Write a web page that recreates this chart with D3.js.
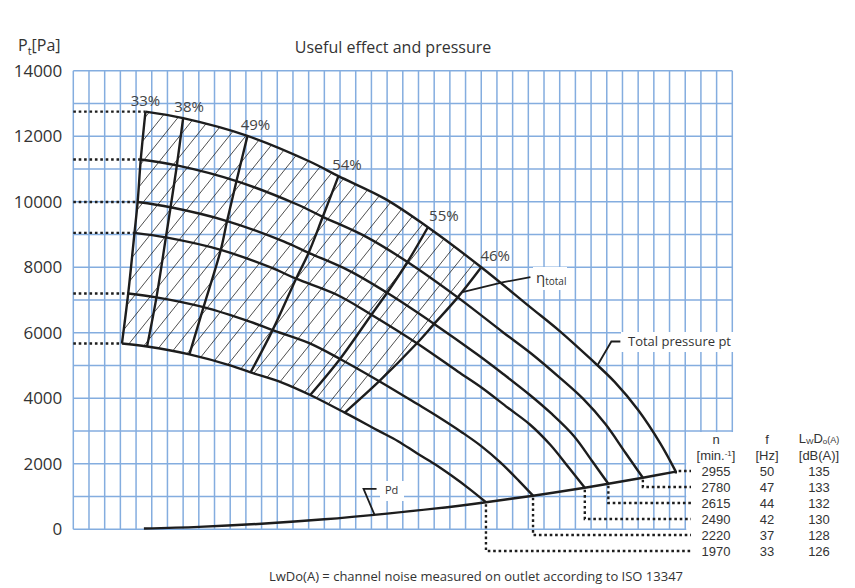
<!DOCTYPE html>
<html>
<head>
<meta charset="utf-8">
<script src="https://cdn.jsdelivr.net/npm/d3@7"></script>
<style>
  body { margin: 0; background: #fff; }
  svg { display: block; }
  text { font-family: "Open Sans", sans-serif; fill: #333; }
  .tbl text { font-family: "Liberation Sans", Arial, sans-serif; }
</style>
</head>
<body>
<svg></svg>
<script>
const wSvg = 855, hSvg = 588;

// speed rows of the table
const speeds = [2955, 2780, 2615, 2490, 2220, 1970];
const freqs = [50, 47, 44, 42, 37, 33];
const noise = [135, 133, 132, 130, 128, 126];

// pressure curves, [flow (grid units), Pt in Pa]
const curve2955 = [[4.6,12750],[7.0,12550],[11.1,12010],[15.1,11220],[16.9,10780],[19.9,10080],[22.6,9220],[26.0,8000],[29.1,6790],[31.0,6050],[32.9,5230],[34.5,4500],[36.0,3640],[37.4,2630],[38.4,1762]];
const curve2780 = [[4.3,11290],[6.6,11110],[10.4,10630],[14.2,9930],[15.9,9540],[18.7,8920],[21.3,8160],[24.5,7080],[27.4,6010],[29.2,5360],[31.0,4630],[32.5,3980],[33.9,3220],[35.2,2330],[36.3,1575]];
const curve2615 = [[4.1,9990],[6.2,9830],[9.8,9410],[13.4,8790],[15.0,8440],[17.6,7890],[20.0,7220],[23.0,6270],[25.8,5320],[27.4,4740],[29.1,4100],[30.5,3520],[31.9,2850],[33.1,2060],[34.1,1390]];
const curve2490 = [[3.9,9050],[5.9,8910],[9.4,8530],[12.7,7970],[14.2,7650],[16.8,7160],[19.0,6550],[21.9,5680],[24.5,4820],[26.1,4300],[27.7,3710],[29.1,3200],[30.4,2580],[31.6,1870],[32.6,1270]];
const curve2220 = [[3.5,7200],[5.3,7080],[8.3,6780],[11.3,6330],[12.7,6080],[15.0,5690],[17.0,5200],[19.5,4520],[21.9,3830],[23.3,3420],[24.8,2950],[26.0,2540],[27.2,2050],[28.4,1480],[29.3,1026]];
const curve1970 = [[3.1,5670],[4.7,5580],[7.4,5340],[10.1,4990],[11.3,4790],[13.3,4480],[15.1,4100],[17.3,3560],[19.4,3020],[20.7,2690],[21.9,2320],[23.0,2000],[24.1,1640],[25.2,1250],[26.3,827]];

// dynamic pressure Pd
const pdCurve = [[4.5,25],[8,75],[12,170],[16,305],[20,480],[23,630],[26.3,827],[29.3,1026],[32.6,1270],[34.1,1390],[36.3,1575],[38.4,1762]];

// efficiency lines: label and the point index on each speed curve
const effLabels = ["33%", "38%", "49%", "54%", "55%", "46%"];
const effIndex = [0, 1, 2, 4, 6, 7];

const yTicks = [0, 2000, 4000, 6000, 8000, 10000, 12000, 14000];

const curves = [curve2955, curve2780, curve2615, curve2490, curve2220, curve1970];

const svg = d3.select("svg")
    .attr("width", wSvg)
    .attr("height", hSvg);

const x = d3.scaleLinear().domain([0, 42]).range([73.3, 732.3]);
const y = d3.scaleLinear().domain([0, 14000]).range([529.3, 70.7]);

const line = d3.line()
    .x(d => x(d[0]))
    .y(d => y(d[1]))
    .curve(d3.curveCatmullRom.alpha(0.5));

// grid
const grid = svg.append("g")
    .attr("stroke", "#84addf")
    .attr("stroke-width", 1.5);

grid.selectAll("line.v")
    .data(d3.range(0, 43))
    .join("line")
    .classed("v", true)
    .attr("x1", d => x(d)).attr("x2", d => x(d))
    .attr("y1", y(0)).attr("y2", y(14000));

grid.selectAll("line.h")
    .data(d3.range(0, 14001, 1000))
    .join("line")
    .classed("h", true)
    .attr("x1", x(0)).attr("x2", x(42))
    .attr("y1", d => y(d)).attr("y2", d => y(d));

// white boxes behind table and labels
const boxes = [
    [x(39) + 1, y(3000) + 1, 120, 120],
    [621, 332, 116, 20],
    [533, 267, 34, 23],
    [380, 481, 24, 20]
];
svg.append("g").selectAll("rect")
    .data(boxes)
    .join("rect")
    .attr("x", d => d[0]).attr("y", d => d[1])
    .attr("width", d => d[2]).attr("height", d => d[3])
    .attr("fill", "#fff");

// y axis labels
const yAxis = svg.append("g")
    .attr("transform", `translate(${x(0)},0)`)
    .call(d3.axisLeft(y).tickValues(yTicks).tickSize(0).tickPadding(11).tickFormat(d3.format("d")));
yAxis.select(".domain").remove();
yAxis.selectAll("text")
    .attr("font-size", 17)
    .attr("font-family", "Open Sans, sans-serif")
    .style("fill", "#333");

// hatching between 33% and 46% lines
const topSeg = curve2955.slice(0, 8);
const rightSeg = curves.map(c => c[7]);
const bottomSeg = curve1970.slice(0, 8).reverse();
const leftSeg = curves.map(c => c[0]).reverse();
const clipD = line(topSeg)
    + line(rightSeg).replace("M", "L")
    + line(bottomSeg).replace("M", "L")
    + line(leftSeg).replace("M", "L") + "Z";

svg.append("clipPath").attr("id", "hatchClip")
    .append("path").attr("d", clipD);

const hatch = svg.append("g")
    .attr("clip-path", "url(#hatchClip)")
    .attr("stroke", "#222")
    .attr("stroke-width", 0.8);
hatch.selectAll("line")
    .data(d3.range(-20, 40))
    .join("line")
    .attr("x1", i => 60 + i * 16.5).attr("y1", 430)
    .attr("x2", i => 60 + i * 16.5 + 340 / 1.25).attr("y2", 90);

// speed curves
svg.append("g").selectAll("path")
    .data(curves)
    .join("path")
    .attr("d", line)
    .attr("fill", "none")
    .attr("stroke", "#1d1d1d")
    .attr("stroke-width", 2.4);

// efficiency lines
svg.append("g").selectAll("path")
    .data(effIndex)
    .join("path")
    .attr("d", k => line(curves.map(c => c[k])))
    .attr("fill", "none")
    .attr("stroke", "#1d1d1d")
    .attr("stroke-width", 2.4);

// Pd curve
svg.append("path")
    .attr("d", line(pdCurve))
    .attr("fill", "none")
    .attr("stroke", "#1d1d1d")
    .attr("stroke-width", 2.4);

// efficiency labels
const labelShift = [0, 6, 8, 8.5, 16, 14];
svg.append("g").selectAll("text")
    .data(effIndex)
    .join("text")
    .attr("x", (k, i) => x(curve2955[k][0]) + labelShift[i])
    .attr("y", k => y(curve2955[k][1]) - 6)
    .attr("text-anchor", "middle")
    .attr("font-size", 15)
    .style("fill", "#444")
    .text((k, i) => effLabels[i]);

// dotted lines
const dotted = svg.append("g")
    .attr("fill", "none")
    .attr("stroke", "#1d1d1d")
    .attr("stroke-width", 2.4)
    .attr("stroke-dasharray", "2.6,2.8");

dotted.selectAll("line")
    .data(curves)
    .join("line")
    .attr("x1", x(0)).attr("x2", c => x(c[0][0]))
    .attr("y1", c => y(c[0][1])).attr("y2", c => y(c[0][1]));

const rowY = i => 471 + i * 16;
dotted.selectAll("path")
    .data(curves)
    .join("path")
    .attr("d", (c, i) => {
        const e = c[c.length - 1];
        return `M${x(e[0])},${y(e[1]) + 2}L${x(e[0])},${rowY(i)}L691,${rowY(i)}`;
    });

// table
const table = svg.append("g")
    .classed("tbl", true)
    .attr("font-size", 13)
    .attr("text-anchor", "middle");
const colX = [716, 767, 819];

table.append("text").attr("x", colX[0]).attr("y", 444).text("n");
table.append("text").attr("x", colX[0]).attr("y", 460)
    .html('[min.<tspan font-size="8" dy="-4">-1</tspan><tspan dy="4">]</tspan>');

table.append("text").attr("x", colX[1]).attr("y", 444).text("f");
table.append("text").attr("x", colX[1]).attr("y", 460).text("[Hz]");

table.append("text").attr("x", colX[2]).attr("y", 443)
    .html('L<tspan font-size="8" dy="1">W</tspan><tspan dy="-1">D</tspan><tspan font-size="8" dy="1">o</tspan><tspan font-size="9" dy="-1">(A)</tspan>');
table.append("text").attr("x", colX[2]).attr("y", 460).text("[dB(A)]");

[speeds, freqs, noise].forEach((col, j) => {
    table.append("g").selectAll("text")
        .data(col)
        .join("text")
        .attr("x", colX[j])
        .attr("y", (d, i) => rowY(i) + 5)
        .text(d => d);
});

// leaders and annotations
const leader = svg.append("g")
    .attr("fill", "none")
    .attr("stroke", "#1d1d1d")
    .attr("stroke-width", 1.8);

const tpx = x(33.4), tpy = y(5000);
leader.append("path").attr("d", `M${tpx},${tpy}L${tpx + 14},${tpy - 24}L${tpx + 23},${tpy - 24}`);
svg.append("text").attr("x", 628).attr("y", 346).attr("font-size", 13).text("Total pressure pt");

const etx = x(24.8), ety = y(7240);
leader.append("path").attr("d", `M${etx},${ety}L${etx + 41},${ety - 10}L${etx + 68},${ety - 15}`);
svg.append("text").attr("x", 536).attr("y", 283).attr("font-size", 15)
    .html('η<tspan font-size="10" dy="2">total</tspan>');

const pdx = x(19.2), pdy = y(440);
leader.append("path").attr("d", `M${pdx},${pdy}L${pdx - 11},${pdy - 26}L${pdx + 2},${pdy - 26}`);
svg.append("text").attr("x", 385).attr("y", 494).attr("font-size", 11).text("Pd");

// titles
svg.append("text")
    .attr("x", 393).attr("y", 53)
    .attr("text-anchor", "middle")
    .attr("font-size", 16)
    .text("Useful effect and pressure");

svg.append("text").attr("x", 18).attr("y", 51).attr("font-size", 16)
    .html('P<tspan font-size="11" dy="4">t</tspan><tspan dy="-4">[Pa]</tspan>');

svg.append("text")
    .attr("x", 476).attr("y", 581)
    .attr("text-anchor", "middle")
    .attr("font-size", 13)
    .text("LwDo(A) = channel noise measured on outlet according to ISO 13347");
</script>
</body>
</html>
